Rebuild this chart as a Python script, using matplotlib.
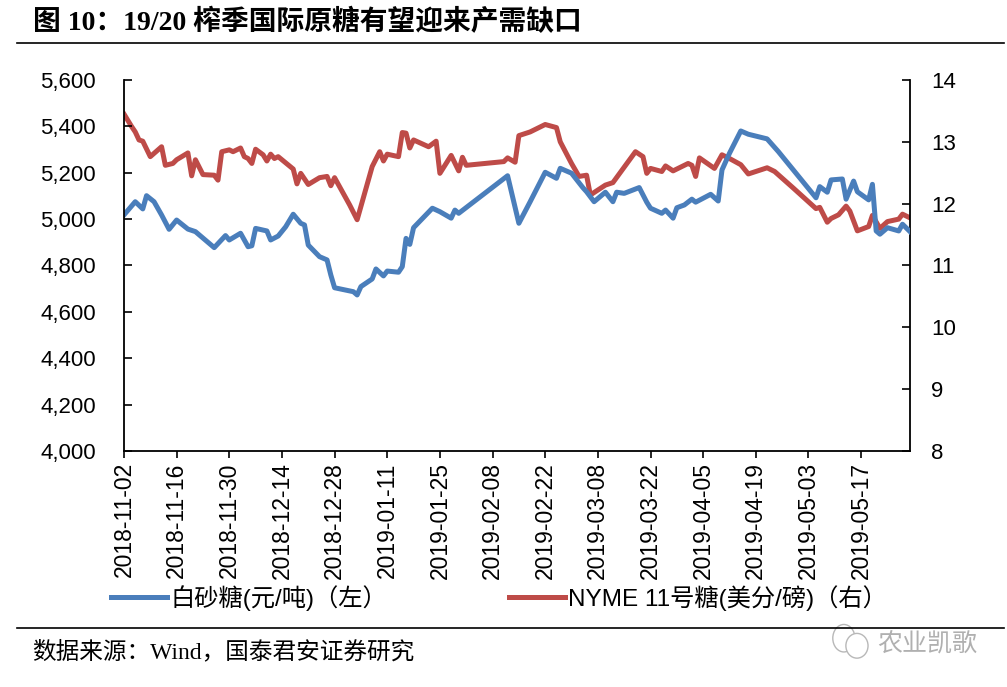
import pandas as pd
import matplotlib
matplotlib.use("Agg")
import matplotlib.pyplot as plt
import matplotlib.dates as mdates
from matplotlib.patches import Ellipse
from matplotlib.ticker import FuncFormatter, MultipleLocator

plt.rcParams['font.family'] = ['Liberation Sans', 'Noto Sans CJK SC']

# white sugar spot price (yuan/ton), left axis
sugar_dates = [
    "2018-11-02", "2018-11-05", "2018-11-07", "2018-11-08", "2018-11-10", "2018-11-12",
    "2018-11-14", "2018-11-16", "2018-11-19", "2018-11-21", "2018-11-26", "2018-11-29",
    "2018-11-30", "2018-12-03", "2018-12-05", "2018-12-06", "2018-12-07", "2018-12-10",
    "2018-12-11", "2018-12-13", "2018-12-15", "2018-12-17", "2018-12-19", "2018-12-20",
    "2018-12-21", "2018-12-24", "2018-12-26", "2018-12-27", "2018-12-28", "2019-01-02",
    "2019-01-03", "2019-01-04", "2019-01-07", "2019-01-08", "2019-01-10", "2019-01-11",
    "2019-01-14", "2019-01-15", "2019-01-16", "2019-01-17", "2019-01-18", "2019-01-23",
    "2019-01-25", "2019-01-28", "2019-01-29", "2019-01-30", "2019-02-12", "2019-02-15",
    "2019-02-18", "2019-02-22", "2019-02-25", "2019-02-26", "2019-03-01", "2019-03-04",
    "2019-03-05", "2019-03-07", "2019-03-10", "2019-03-12", "2019-03-13", "2019-03-15",
    "2019-03-19", "2019-03-21", "2019-03-22", "2019-03-25", "2019-03-26", "2019-03-28",
    "2019-03-29", "2019-03-31", "2019-04-02", "2019-04-03", "2019-04-07", "2019-04-09",
    "2019-04-10", "2019-04-12", "2019-04-15", "2019-04-17", "2019-04-22", "2019-04-25",
    "2019-05-05", "2019-05-06", "2019-05-08", "2019-05-09", "2019-05-12", "2019-05-13",
    "2019-05-15", "2019-05-16", "2019-05-19", "2019-05-20", "2019-05-21", "2019-05-22",
    "2019-05-24", "2019-05-27", "2019-05-28", "2019-05-30",
]
sugar_values = [
    5018, 5075, 5044, 5101, 5075, 5018,
    4956, 4996, 4957, 4946, 4877, 4929,
    4910, 4939, 4881, 4885, 4960, 4949,
    4910, 4927, 4967, 5021, 4982, 4975,
    4888, 4838, 4824, 4759, 4704, 4687,
    4673, 4709, 4742, 4785, 4755, 4776,
    4771, 4795, 4917, 4891, 4963, 5047,
    5032, 5004, 5039, 5025, 5187, 4982,
    5075, 5202, 5176, 5219, 5198, 5136,
    5118, 5075, 5116, 5075, 5116, 5111,
    5136, 5073, 5047, 5025, 5039, 5004,
    5049, 5061, 5086, 5073, 5107, 5078,
    5212, 5284, 5380, 5366, 5346, 5291,
    5092, 5140, 5116, 5169, 5173, 5086,
    5164, 5118, 5083, 5150, 4949, 4935,
    4963, 4949, 4978, 4946,
]

# ICE No.11 raw sugar (US cents/lb), right axis
raw_dates = [
    "2018-11-02", "2018-11-04", "2018-11-05", "2018-11-06", "2018-11-07", "2018-11-09",
    "2018-11-12", "2018-11-13", "2018-11-15", "2018-11-16", "2018-11-19", "2018-11-20",
    "2018-11-21", "2018-11-23", "2018-11-26", "2018-11-27", "2018-11-28", "2018-11-30",
    "2018-12-01", "2018-12-03", "2018-12-04", "2018-12-05", "2018-12-06", "2018-12-07",
    "2018-12-09", "2018-12-10", "2018-12-11", "2018-12-12", "2018-12-13", "2018-12-17",
    "2018-12-18", "2018-12-19", "2018-12-21", "2018-12-24", "2018-12-26", "2018-12-27",
    "2018-12-28", "2019-01-01", "2019-01-03", "2019-01-07", "2019-01-09", "2019-01-10",
    "2019-01-11", "2019-01-14", "2019-01-15", "2019-01-16", "2019-01-17", "2019-01-18",
    "2019-01-22", "2019-01-24", "2019-01-25", "2019-01-28", "2019-01-30", "2019-01-31",
    "2019-02-01", "2019-02-11", "2019-02-12", "2019-02-14", "2019-02-15", "2019-02-18",
    "2019-02-22", "2019-02-25", "2019-02-26", "2019-03-01", "2019-03-03", "2019-03-05",
    "2019-03-06", "2019-03-10", "2019-03-12", "2019-03-18", "2019-03-20", "2019-03-21",
    "2019-03-22", "2019-03-25", "2019-03-26", "2019-03-28", "2019-04-01", "2019-04-02",
    "2019-04-03", "2019-04-04", "2019-04-08", "2019-04-10", "2019-04-12", "2019-04-15",
    "2019-04-17", "2019-04-22", "2019-04-24", "2019-04-29", "2019-05-05", "2019-05-06",
    "2019-05-08", "2019-05-09", "2019-05-11", "2019-05-13", "2019-05-14", "2019-05-16",
    "2019-05-19", "2019-05-20", "2019-05-22", "2019-05-24", "2019-05-27", "2019-05-28",
    "2019-05-30",
]
raw_values = [
    13.45, 13.25, 13.16, 13.03, 13.01, 12.76,
    12.92, 12.62, 12.65, 12.71, 12.82, 12.45,
    12.71, 12.47, 12.46, 12.38, 12.84, 12.87,
    12.84, 12.90, 12.76, 12.73, 12.65, 12.88,
    12.79, 12.69, 12.80, 12.73, 12.76, 12.56,
    12.32, 12.49, 12.31, 12.42, 12.44, 12.29,
    12.42, 11.98, 11.74, 12.60, 12.84, 12.69,
    12.80, 12.76, 13.15, 13.14, 12.90, 13.03,
    12.92, 13.01, 12.49, 12.78, 12.53, 12.75,
    12.62, 12.68, 12.74, 12.67, 13.10, 13.16,
    13.28, 13.23, 13.00, 12.65, 12.44, 12.46,
    12.14, 12.30, 12.34, 12.84, 12.76, 12.49,
    12.57, 12.52, 12.61, 12.53, 12.65, 12.62,
    12.44, 12.74, 12.57, 12.79, 12.73, 12.63,
    12.48, 12.58, 12.52, 12.25, 11.92, 11.94,
    11.70, 11.76, 11.82, 11.96, 11.88, 11.56,
    11.63, 11.81, 11.60, 11.71, 11.75, 11.83,
    11.77,
]

title = "图 10：19/20 榨季国际原糖有望迎来产需缺口"
label_sugar = "白砂糖(元/吨)（左）"
label_raw = "NYME 11号糖(美分/磅)（右）"
source = "数据来源：Wind，国泰君安证券研究"

blue = "#4A7EBB"
red = "#BE4B48"

fig = plt.figure(figsize=(10.07, 6.87), dpi=100)
ax = fig.add_axes([0.1231, 0.3435, 0.7806, 0.5401])
ax2 = ax.twinx()

x1 = pd.to_datetime(sugar_dates)
x2 = pd.to_datetime(raw_dates)
l1, = ax.plot(x1, sugar_values, color=blue, lw=3.6, solid_joinstyle='round')
l2, = ax2.plot(x2, raw_values, color=red, lw=3.6, solid_joinstyle='round')
ax.set_zorder(ax2.get_zorder() + 1)
ax.patch.set_visible(False)

ax.set_xlim(pd.Timestamp("2018-11-02"), pd.Timestamp("2019-05-30"))
ax.set_ylim(4000, 5600)
ax2.set_ylim(8, 14)
ax.yaxis.set_major_locator(MultipleLocator(200))
ax.yaxis.set_major_formatter(FuncFormatter(lambda v, p: f"{int(v):,}"))
ax2.yaxis.set_major_locator(MultipleLocator(1))

ticks = pd.date_range("2018-11-02", "2019-05-17", freq="14D")
ax.set_xticks(ticks)
ax.xaxis.set_major_formatter(mdates.DateFormatter("%Y-%m-%d"))
ax.tick_params(axis='x', direction='out', length=5, width=1.2, rotation=90,
               labelsize=16.5, pad=3)
ax.tick_params(axis='y', direction='in', length=6, width=1.2, labelsize=16, pad=20)
ax2.tick_params(axis='y', direction='in', length=6, width=1.2, labelsize=16, pad=15)

for a in (ax, ax2):
    a.spines['top'].set_visible(False)
    for s in ('left', 'right', 'bottom'):
        a.spines[s].set_linewidth(1.3)
ax.spines['right'].set_visible(False)
ax2.spines['left'].set_visible(False)
ax2.spines['bottom'].set_visible(False)

fig.legend([l1, l2], [label_sugar, label_raw], loc='center',
           bbox_to_anchor=(0.4955, 0.13), ncol=2, frameon=False, fontsize=17.5,
           handlelength=2.3, handletextpad=0.15, columnspacing=5.0)

fig.text(0.033, 0.968, title, fontsize=20, fontweight='bold', va='center',
         family=['Liberation Serif', 'Noto Sans CJK SC'])
fig.add_artist(plt.Line2D([0.017, 0.997], [0.937, 0.937], color='black', lw=1.2))
fig.add_artist(plt.Line2D([0.017, 0.997], [0.086, 0.086], color='black', lw=1.2))
fig.text(0.032, 0.051, source, fontsize=17, va='center',
         family=['Liberation Serif', 'Noto Sans CJK SC'])

# watermark: little chat-bubble icon and account name
fig.add_artist(Ellipse((0.838, 0.071), 0.022, 0.040, fill=False, ec='#B8B8B8', lw=1.0,
                       transform=fig.transFigure))
fig.add_artist(Ellipse((0.851, 0.060), 0.022, 0.036, fc='white', ec='#B8B8B8', lw=1.0,
                       transform=fig.transFigure))
fig.text(0.871, 0.064, "农业凯歌", fontsize=18, color='#B0B0B0', va='center',
         family=['Noto Sans CJK SC'])

fig.savefig("out.png", dpi=100)
